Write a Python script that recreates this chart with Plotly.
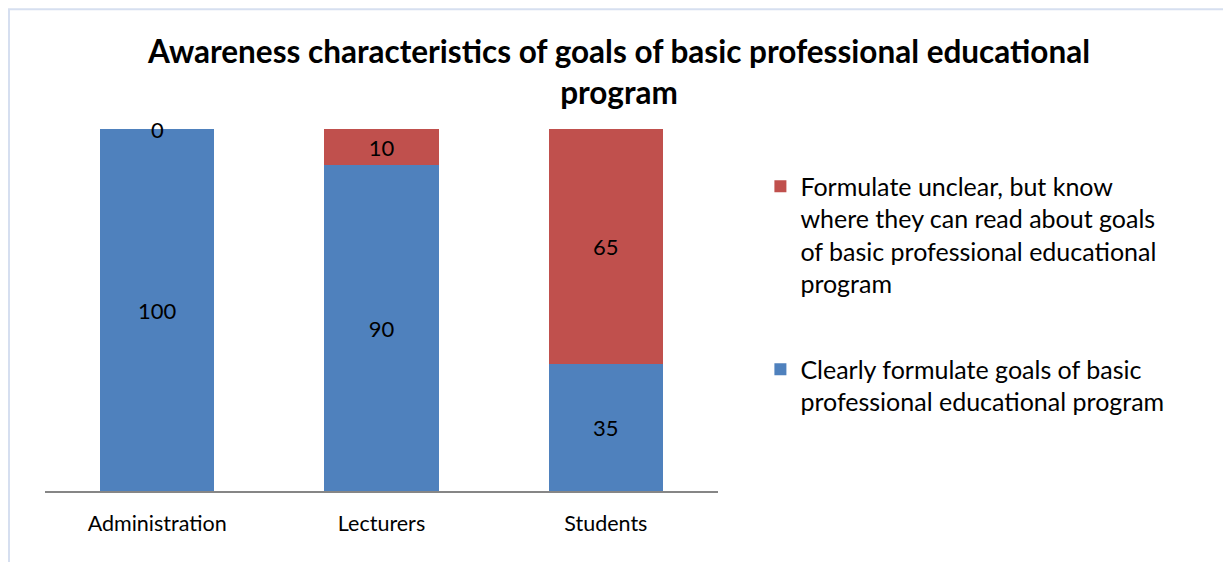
import plotly.graph_objects as go

categories = ["Administration", "Lecturers", "Students"]
clearly = [100, 90, 35]
unclear = [0, 10, 65]
series_names = [
    "Clearly formulate goals of basic<br>professional educational program",
    "Formulate unclear, but know<br>where they can read about goals<br>of basic professional educational<br>program",
]
title = "Awareness characteristics of goals of basic professional educational<br>program"

FONT = "Lato, Open Sans, sans-serif"
BLUE, RED = "#4f81bd", "#c0504d"

fig = go.Figure()
for i, (vals, name, col) in enumerate([(clearly, series_names[0], BLUE),
                                       (unclear, series_names[1], RED)]):
    fig.add_trace(go.Bar(
        x=categories, y=vals, name=name, marker=dict(color=col, line=dict(width=0)),
        text=[str(v) if v else "" for v in vals], textposition="inside",
        insidetextanchor="middle", textfont=dict(color="black", size=22, family=FONT),
        legendgroup=f"g{i}", legendrank=2 - i))

# zero-height segments still get their label, at the stack boundary
for c, a, b in zip(categories, clearly, unclear):
    if b == 0:
        fig.add_annotation(x=c, y=a + b, text=str(b), showarrow=False,
                           yanchor="middle", font=dict(size=22, color="black", family=FONT))

# page body adds an 8px offset, so the figure is drawn 8px smaller
fig.update_layout(
    width=1223, height=554, barmode="stack", bargap=0.49,
    paper_bgcolor="white", plot_bgcolor="white",
    margin=dict(l=37, r=513, t=121, b=71),
    title=dict(text=title, x=0.4996, xref="container", xanchor="center",
               y=0.90, yanchor="top",
               font=dict(family=FONT, size=31.5, color="black", weight="bold")),
    font=dict(family=FONT, size=20, color="black"),
    legend=dict(x=1.063, y=0.905, xanchor="left", yanchor="top",
                traceorder="grouped", tracegroupgap=50, valign="top",
                font=dict(size=25, family=FONT), itemwidth=30),
    xaxis=dict(showline=True, linecolor="#868686", linewidth=2, ticks="",
               tickfont=dict(size=21.5), showgrid=False, ticklabelstandoff=12),
    yaxis=dict(range=[0, 100], visible=False, showgrid=False),
    shapes=[dict(type="rect", xref="paper", yref="paper", x0=-0.0535, x1=1.759,
                 y0=-0.3, y1=1.331, line=dict(color="#d6dff0", width=2),
                 fillcolor="rgba(0,0,0,0)", layer="below")],
)

fig.write_html("out.html")
